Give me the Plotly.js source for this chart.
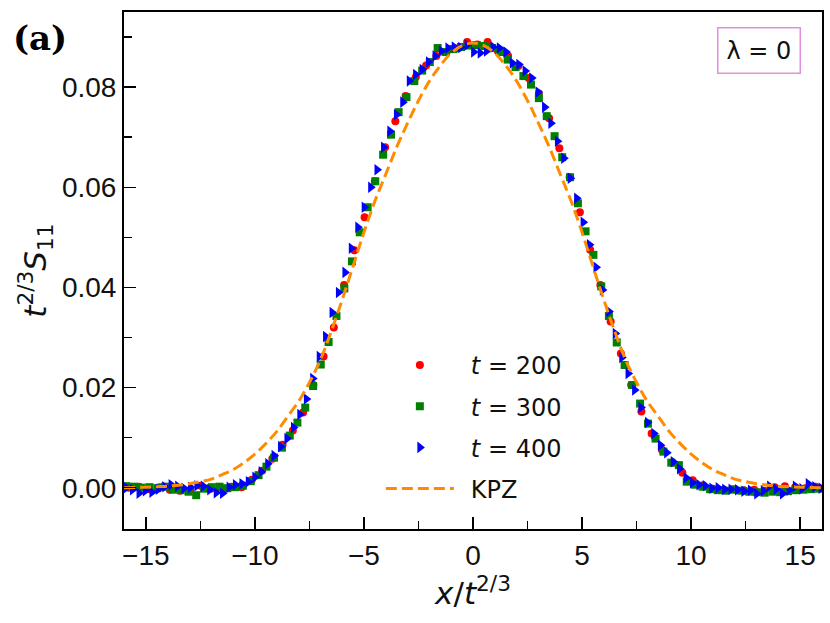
<!DOCTYPE html>
<html>
<head>
<meta charset="utf-8">
<script src="https://cdn.plot.ly/plotly-3.0.1.min.js"></script>
<style>
    body { margin: 0; background: #fff; }
    #plot { width: 830px; height: 623px; }
</style>
</head>
<body>
<div id="plot"></div>
<script>
    // t = 200 (red circles)
    const x200 = [-15.78, -15.31, -14.84, -14.37, -13.90, -13.43, -12.96, -12.49, -12.02, -11.55,
        -11.08, -10.61, -10.14, -9.67, -9.20, -8.73, -8.26, -7.79, -7.32, -6.85,
        -6.38, -5.91, -5.44, -4.97, -4.50, -4.03, -3.56, -3.09, -2.62, -2.15,
        -1.68, -1.21, -0.74, -0.27, 0.20, 0.67, 1.14, 1.61, 2.08, 2.55,
        3.02, 3.49, 3.96, 4.43, 4.90, 5.37, 5.84, 6.31, 6.78, 7.25,
        7.72, 8.19, 8.66, 9.13, 9.60, 10.07, 10.54, 11.01, 11.48, 11.95,
        12.42, 12.89, 13.36, 13.83, 14.30, 14.77, 15.24, 15.71]
    const y200 = [0.0000, 0.0002, -0.0003, 0.0001, -0.0004, -0.0006, -0.0004, 0.0004, -0.0002, 0.0000,
        0.0002, 0.0001, 0.0016, 0.0034, 0.0058, 0.0086, 0.0114, 0.0150, 0.0205, 0.0262,
        0.0320, 0.0405, 0.0474, 0.0540, 0.0612, 0.0680, 0.0732, 0.0782, 0.0820, 0.0843,
        0.0862, 0.0870, 0.0877, 0.0890, 0.0885, 0.0890, 0.0872, 0.0862, 0.0842, 0.0818,
        0.0787, 0.0738, 0.0678, 0.0620, 0.0550, 0.0475, 0.0405, 0.0332, 0.0268, 0.0205,
        0.0152, 0.0108, 0.0076, 0.0050, 0.0030, 0.0015, 0.0005, -0.0002, -0.0004, -0.0003,
        -0.0005, -0.0004, -0.0006, 0.0001, 0.0003, 0.0001, -0.0001, 0.0002]

    // t = 300 (green squares)
    const x300 = [-15.90, -15.54, -15.19, -14.83, -14.47, -14.12, -13.76, -13.40, -13.04, -12.69,
        -12.33, -11.97, -11.62, -11.26, -10.90, -10.55, -10.19, -9.83, -9.47, -9.12,
        -8.76, -8.40, -8.05, -7.69, -7.33, -6.98, -6.62, -6.26, -5.90, -5.55,
        -5.19, -4.83, -4.48, -4.12, -3.76, -3.41, -3.05, -2.69, -2.33, -1.98,
        -1.62, -1.26, -0.91, -0.55, -0.19, 0.17, 0.52, 0.88, 1.24, 1.59,
        1.95, 2.31, 2.66, 3.02, 3.38, 3.74, 4.09, 4.45, 4.81, 5.16,
        5.52, 5.88, 6.23, 6.59, 6.95, 7.30, 7.66, 8.02, 8.37, 8.73,
        9.09, 9.44, 9.80, 10.16, 10.52, 10.87, 11.23, 11.59, 11.94, 12.30,
        12.66, 13.01, 13.37, 13.73, 14.08, 14.44, 14.80, 15.15, 15.51, 15.87]
    const y300 = [0.0003, 0.0002, 0.0000, 0.0001, -0.0001, 0.0002, -0.0004, -0.0005, -0.0008, -0.0015,
        -0.0002, 0.0001, 0.0002, -0.0001, 0.0001, 0.0004, 0.0013, 0.0025, 0.0042, 0.0060,
        0.0080, 0.0104, 0.0130, 0.0160, 0.0203, 0.0246, 0.0291, 0.0343, 0.0398, 0.0452,
        0.0510, 0.0560, 0.0612, 0.0665, 0.0705, 0.0750, 0.0780, 0.0812, 0.0833, 0.0850,
        0.0878, 0.0870, 0.0876, 0.0880, 0.0883, 0.0884, 0.0882, 0.0878, 0.0870, 0.0855,
        0.0840, 0.0822, 0.0805, 0.0778, 0.0742, 0.0702, 0.0660, 0.0620, 0.0568, 0.0512,
        0.0465, 0.0402, 0.0343, 0.0290, 0.0245, 0.0205, 0.0168, 0.0128, 0.0098, 0.0072,
        0.0050, 0.0045, 0.0012, 0.0006, 0.0002, -0.0003, -0.0005, -0.0006, -0.0004, -0.0006,
        -0.0008, -0.0009, -0.0010, -0.0008, -0.0009, -0.0007, -0.0005, -0.0004, -0.0003, -0.0002]

    // t = 400 (blue triangles)
    const x400 = [-15.90, -15.61, -15.31, -15.02, -14.72, -14.43, -14.13, -13.84, -13.54, -13.25,
        -12.95, -12.66, -12.36, -12.07, -11.77, -11.48, -11.18, -10.89, -10.59, -10.30,
        -10.00, -9.71, -9.41, -9.12, -8.82, -8.53, -8.23, -7.94, -7.64, -7.35,
        -7.05, -6.76, -6.46, -6.17, -5.87, -5.58, -5.28, -4.99, -4.69, -4.40,
        -4.10, -3.81, -3.51, -3.22, -2.92, -2.63, -2.33, -2.04, -1.74, -1.45,
        -1.15, -0.86, -0.56, -0.27, 0.03, 0.33, 0.62, 0.92, 1.21, 1.51,
        1.80, 2.10, 2.39, 2.69, 2.98, 3.28, 3.57, 3.87, 4.16, 4.46,
        4.75, 5.05, 5.34, 5.64, 5.93, 6.23, 6.52, 6.82, 7.11, 7.41,
        7.70, 8.00, 8.29, 8.59, 8.88, 9.18, 9.47, 9.77, 10.06, 10.36,
        10.65, 10.95, 11.24, 11.54, 11.83, 12.13, 12.42, 12.72, 13.01, 13.31,
        13.60, 13.90, 14.19, 14.49, 14.78, 15.08, 15.37, 15.67, 15.96]
    const y400 = [0.0000, -0.0004, -0.0011, -0.0006, -0.0009, -0.0003, 0.0002, 0.0006, 0.0003, -0.0001,
        0.0001, 0.0004, 0.0003, -0.0004, -0.0010, -0.0011, 0.0001, 0.0006, 0.0008, 0.0012,
        0.0021, 0.0032, 0.0048, 0.0064, 0.0082, 0.0098, 0.0120, 0.0146, 0.0177, 0.0218,
        0.0262, 0.0302, 0.0350, 0.0390, 0.0430, 0.0478, 0.0520, 0.0560, 0.0600, 0.0635,
        0.0680, 0.0712, 0.0745, 0.0770, 0.0812, 0.0825, 0.0835, 0.0850, 0.0862, 0.0872,
        0.0878, 0.0880, 0.0879, 0.0884, 0.0870, 0.0868, 0.0872, 0.0880, 0.0878, 0.0870,
        0.0848, 0.0845, 0.0832, 0.0818, 0.0790, 0.0760, 0.0728, 0.0692, 0.0658, 0.0618,
        0.0578, 0.0530, 0.0485, 0.0440, 0.0395, 0.0352, 0.0308, 0.0260, 0.0228, 0.0195,
        0.0160, 0.0130, 0.0108, 0.0085, 0.0070, 0.0052, 0.0038, 0.0020, 0.0010, 0.0006,
        0.0004, -0.0001, 0.0000, -0.0003, -0.0003, -0.0004, -0.0007, -0.0005, -0.0012, -0.0006,
        0.0003, -0.0003, -0.0012, -0.0005, 0.0003, -0.0002, 0.0008, 0.0002, -0.0001]

    // KPZ scaling function (dashed)
    const kpzX = [-16, -15, -14.5, -14, -13.5, -13, -12.5, -12, -11.5, -11, -10.5, -10, -9.5, -9, -8.5,
        -8, -7.5, -7, -6.5, -6, -5.5, -5, -4.5, -4, -3.5, -3, -2.5, -2, -1.5, -1, -0.5,
        0, 0.5, 1, 1.5, 2, 2.5, 3, 3.5, 4, 4.5, 5, 5.5, 6, 6.5, 7, 7.5,
        8, 8.5, 9, 9.5, 10, 10.5, 11, 11.5, 12, 12.5, 13, 13.5, 14, 14.5, 15, 16]
    const kpzY = [0.0000, 0.0001, 0.0002, 0.0003, 0.0005, 0.0008, 0.0012, 0.0017, 0.0026, 0.0036, 0.0050, 0.0067, 0.0088, 0.0112, 0.0142,
        0.0172, 0.0210, 0.0255, 0.0312, 0.0375, 0.0442, 0.0510, 0.0572, 0.0626, 0.0680, 0.0728, 0.0773, 0.0812, 0.0843, 0.0868, 0.0883,
        0.0888, 0.0883, 0.0868, 0.0843, 0.0812, 0.0773, 0.0728, 0.0680, 0.0626, 0.0572, 0.0510, 0.0442, 0.0375, 0.0312, 0.0255, 0.0210,
        0.0172, 0.0142, 0.0112, 0.0088, 0.0067, 0.0050, 0.0036, 0.0026, 0.0017, 0.0012, 0.0008, 0.0005, 0.0003, 0.0002, 0.0001, 0.0000]

    const seriesNames = ['\u2002<i>t</i> = 200', '\u2002<i>t</i> = 300', '\u2002<i>t</i> = 400', '\u2002KPZ']
    const font = 'DejaVu Sans, Liberation Sans, sans-serif'
    const tickFont = 'Liberation Sans, Arial, sans-serif'

    const data = [
        {x: x200, y: y200, type: 'scatter', mode: 'markers', name: seriesNames[0], legendgroup: 'a',
            marker: {symbol: 'circle', color: '#ff0000', size: 8}},
        {x: x300, y: y300, type: 'scatter', mode: 'markers', name: seriesNames[1], legendgroup: 'b',
            marker: {symbol: 'square', color: '#008000', size: 8}},
        {x: x400, y: y400, type: 'scatter', mode: 'markers', name: seriesNames[2], legendgroup: 'c',
            marker: {symbol: 'triangle-right', color: '#0000ff', size: 10}},
        {x: kpzX, y: kpzY, type: 'scatter', mode: 'lines', name: seriesNames[3], legendgroup: 'd',
            line: {color: '#ff8c00', width: 3, dash: '11px,5px', shape: 'spline'}}
    ]

    const axisBase = {
        showline: true, linecolor: 'black', linewidth: 2, mirror: true,
        ticks: 'inside', ticklen: 12, tickwidth: 1.5, tickcolor: 'black',
        showgrid: false, zeroline: false,
        tickfont: {family: tickFont, size: 28, color: '#111'}
    }

    const layout = {
        width: 830, height: 623,
        margin: {l: 124, r: 8, t: 12, b: 94},
        paper_bgcolor: 'white', plot_bgcolor: 'white',
        showlegend: true,
        legend: {
            x: 0.368, y: 0.36, xanchor: 'left', yanchor: 'top',
            bgcolor: 'rgba(0,0,0,0)', borderwidth: 0,
            font: {family: font, size: 24, color: '#111'},
            itemwidth: 68, tracegroupgap: 7, traceorder: 'grouped'
        },
        xaxis: Object.assign({}, axisBase, {
            range: [-16, 16], dtick: 5, tick0: 0,
            minor: {dtick: 2.5, ticks: 'inside', ticklen: 8, tickwidth: 1.5, tickcolor: 'black', showgrid: false},
            title: {text: '<i>x</i>/<i>t</i><sup>2/3</sup>', font: {family: font, size: 31, color: '#111'}, standoff: 6}
        }),
        yaxis: Object.assign({}, axisBase, {
            range: [-0.00825, 0.095], dtick: 0.02, tick0: 0, tickformat: '.2f',
            minor: {dtick: 0.01, ticks: 'inside', ticklen: 8, tickwidth: 1.5, tickcolor: 'black', showgrid: false},
            title: {text: '<i>t</i><sup>2/3</sup><i>S</i><sub>11</sub>', font: {family: font, size: 31, color: '#111'}, standoff: 6}
        }),
        annotations: [
            {text: '<b>(a)</b>', xref: 'paper', yref: 'paper', x: -0.12, y: 0.95,
                xanchor: 'center', yanchor: 'middle', showarrow: false,
                font: {family: 'DejaVu Serif, Liberation Serif, serif', size: 34, color: 'black'}},
            {text: 'λ = 0', xref: 'paper', yref: 'paper', x: 0.91, y: 0.926,
                xanchor: 'center', yanchor: 'middle', showarrow: false,
                bordercolor: '#e090e0', borderwidth: 1.5, borderpad: 8, bgcolor: 'white',
                font: {family: font, size: 24, color: '#111'}}
        ]
    }

    Plotly.newPlot('plot', data, layout, {displayModeBar: false, staticPlot: true})
</script>
</body>
</html>
